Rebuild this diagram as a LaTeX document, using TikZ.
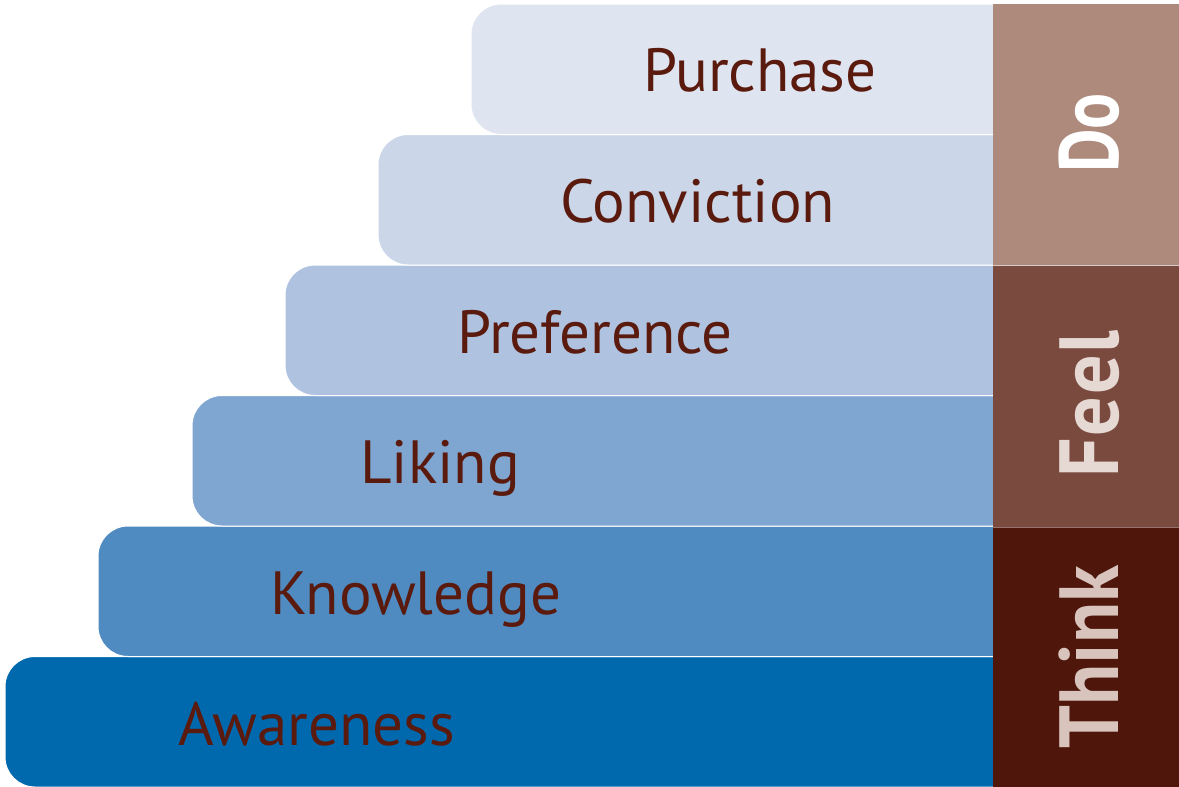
\documentclass[tikz,border=0pt]{standalone}
\usepackage{fontspec}
\setmainfont{PT Sans}
\definecolor{cPur}{HTML}{DFE4F1}
\definecolor{cCon}{HTML}{CBD7E9}
\definecolor{cPre}{HTML}{AFC3E0}
\definecolor{cLik}{HTML}{7FA6D0}
\definecolor{cKno}{HTML}{4F8BC1}
\definecolor{cAwa}{HTML}{0068AD}
\definecolor{cDo}{HTML}{AD8A7C}
\definecolor{cFeel}{HTML}{7A4A3F}
\definecolor{cThink}{HTML}{4F170B}
\definecolor{txt}{HTML}{5A1A0E}
\definecolor{tFeel}{HTML}{E6D9D4}
\definecolor{tThink}{HTML}{D8C4BD}
\tikzset{
  bar/.style={draw=white, line width=1pt, rounded corners=30pt},
  lbl/.style={anchor=base west, inner sep=0pt, text=txt, font=\fontsize{61}{61}\selectfont},
  side/.style={anchor=base, inner sep=0pt, rotate=90, font=\bfseries\fontsize{84}{84}\selectfont},
}
\begin{document}
\begin{tikzpicture}[x=1pt,y=-1pt]
\useasboundingbox (0,0) rectangle (1179,787);
% bars
\path[bar, fill=cAwa] (5,656.5) rectangle (1100,787);
\path[bar, fill=cKno] (98,526) rectangle (1100,656.5);
\path[bar, fill=cLik] (192,395.5) rectangle (1100,526);
\path[bar, fill=cPre] (285,265) rectangle (1100,395.5);
\path[bar, fill=cCon] (378,134.5) rectangle (1100,265);
\path[bar, fill=cPur] (471,4) rectangle (1100,134.5);
% side column
\fill[cDo] (993,4) rectangle (1179,265);
\fill[cFeel] (993,265) rectangle (1179,527);
\fill[cThink] (993,527) rectangle (1179,787);
\draw[white!70!cFeel, line width=0.8pt] (993,265) -- (1179,265);
\draw[white!40!cThink, line width=0.8pt] (993,527) -- (1179,527);
% labels
\node[lbl] (purchase) at (643,91) {Purchase};
\node[lbl] (conviction) at (560,222) {Conviction};
\node[lbl] (preference) at (457,353) {Preference};
\node[lbl] (liking) at (360,483) {Liking};
\node[lbl] (knowledge) at (270,614) {Knowledge};
\node[lbl] (awareness) at (178,745) {Awareness};
% side labels
\node[side, text=white] (do) at (1118,133) {\scalebox{0.8}[1]{Do}};
\node[side, text=tFeel] (feel) at (1118,404) {\scalebox{0.93}[1]{F\kern2pt e\kern2pt e\kern2pt l}};
\node[side, text=tThink] (think) at (1118,657) {\scalebox{0.9}[1]{Think}};
\end{tikzpicture}
\end{document}
